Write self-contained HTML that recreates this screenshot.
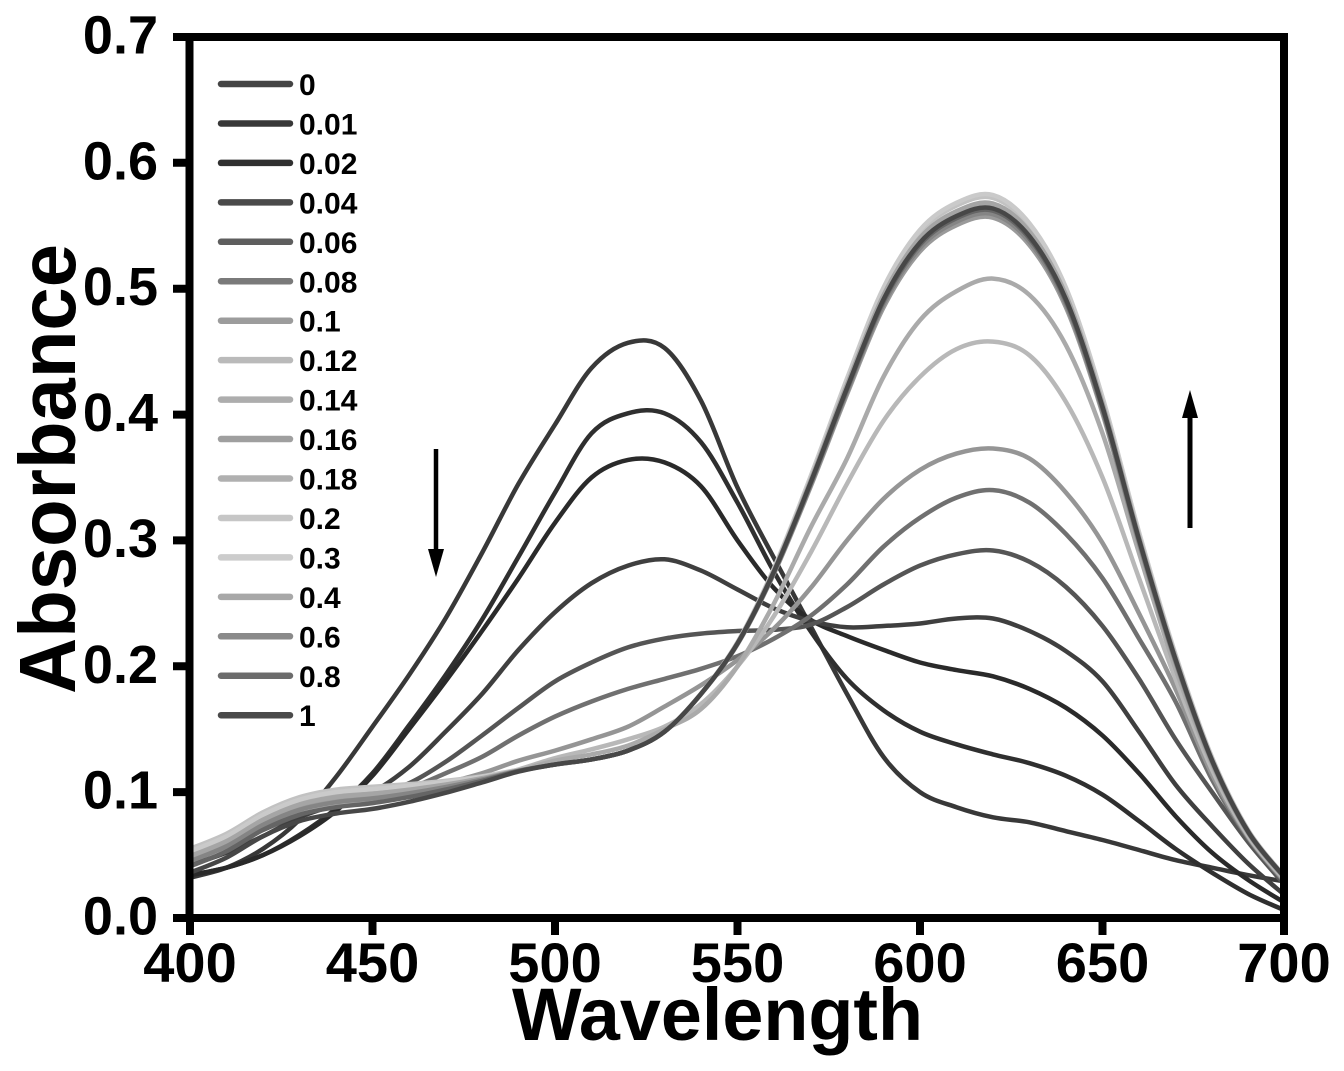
<!DOCTYPE html>
<html>
<head>
<meta charset="utf-8">
<style>
html,body{margin:0;padding:0;background:#fff;}
svg{display:block;}
</style>
</head>
<body>
<svg id="s" width="1344" height="1071" viewBox="0 0 1344 1071" xmlns="http://www.w3.org/2000/svg" font-family="'Liberation Sans', Arial, sans-serif" font-weight="bold">
<rect width="1344" height="1071" fill="#fff"/>
<g id="curves" fill="none" stroke-width="4.5" stroke-linejoin="round" stroke-linecap="round"></g>

<!-- legend -->
<g stroke-width="6.5" stroke-linecap="round">
<line x1="221" x2="290" y1="84" y2="84" stroke="#444"/>
<line x1="221" x2="290" y1="123.45" y2="123.45" stroke="#383838"/>
<line x1="221" x2="290" y1="162.9" y2="162.9" stroke="#303030"/>
<line x1="221" x2="290" y1="202.35" y2="202.35" stroke="#4a4a4a"/>
<line x1="221" x2="290" y1="241.8" y2="241.8" stroke="#5e5e5e"/>
<line x1="221" x2="290" y1="281.25" y2="281.25" stroke="#7a7a7a"/>
<line x1="221" x2="290" y1="320.7" y2="320.7" stroke="#9c9c9c"/>
<line x1="221" x2="290" y1="360.15" y2="360.15" stroke="#bababa"/>
<line x1="221" x2="290" y1="399.6" y2="399.6" stroke="#adadad"/>
<line x1="221" x2="290" y1="439.05" y2="439.05" stroke="#9f9f9f"/>
<line x1="221" x2="290" y1="478.5" y2="478.5" stroke="#b0b0b0"/>
<line x1="221" x2="290" y1="517.95" y2="517.95" stroke="#c6c6c6"/>
<line x1="221" x2="290" y1="557.4" y2="557.4" stroke="#cccccc"/>
<line x1="221" x2="290" y1="596.85" y2="596.85" stroke="#a8a8a8"/>
<line x1="221" x2="290" y1="636.3" y2="636.3" stroke="#8a8a8a"/>
<line x1="221" x2="290" y1="675.75" y2="675.75" stroke="#6c6c6c"/>
<line x1="221" x2="290" y1="715.2" y2="715.2" stroke="#4a4a4a"/>
</g>
<g font-size="30" fill="#000">
<text x="299" y="95">0</text>
<text x="299" y="134.45">0.01</text>
<text x="299" y="173.9">0.02</text>
<text x="299" y="213.35">0.04</text>
<text x="299" y="252.8">0.06</text>
<text x="299" y="292.25">0.08</text>
<text x="299" y="331.7">0.1</text>
<text x="299" y="371.15">0.12</text>
<text x="299" y="410.6">0.14</text>
<text x="299" y="450.05">0.16</text>
<text x="299" y="489.5">0.18</text>
<text x="299" y="528.95">0.2</text>
<text x="299" y="568.4">0.3</text>
<text x="299" y="607.85">0.4</text>
<text x="299" y="647.3">0.6</text>
<text x="299" y="686.75">0.8</text>
<text x="299" y="726.2">1</text>
</g>

<!-- arrows -->
<line x1="436" y1="449" x2="436" y2="556" stroke="#000" stroke-width="4.5"/>
<polygon points="428,549 444,549 436,577" fill="#000"/>
<line x1="1190" y1="528" x2="1190" y2="410" stroke="#000" stroke-width="5"/>
<polygon points="1182,418 1198,418 1190,390" fill="#000"/>

<!-- frame -->
<rect x="189.5" y="37" width="1094.5" height="881" fill="none" stroke="#000" stroke-width="8"/>
<g stroke="#000" stroke-width="8">
<line x1="173" x2="190" y1="918" y2="918"/>
<line x1="173" x2="190" y1="792.1" y2="792.1"/>
<line x1="173" x2="190" y1="666.3" y2="666.3"/>
<line x1="173" x2="190" y1="540.4" y2="540.4"/>
<line x1="173" x2="190" y1="414.6" y2="414.6"/>
<line x1="173" x2="190" y1="288.7" y2="288.7"/>
<line x1="173" x2="190" y1="162.8" y2="162.8"/>
<line x1="173" x2="190" y1="37" y2="37"/>
<line x1="190" x2="190" y1="918" y2="935"/>
<line x1="372.5" x2="372.5" y1="918" y2="935"/>
<line x1="555" x2="555" y1="918" y2="935"/>
<line x1="737.5" x2="737.5" y1="918" y2="935"/>
<line x1="920" x2="920" y1="918" y2="935"/>
<line x1="1102.5" x2="1102.5" y1="918" y2="935"/>
<line x1="1284" x2="1284" y1="918" y2="935"/>
</g>
<g font-size="54" text-anchor="end" fill="#000">
<text x="158" y="934.5">0.0</text>
<text x="158" y="808.6">0.1</text>
<text x="158" y="682.8">0.2</text>
<text x="158" y="556.9">0.3</text>
<text x="158" y="431.1">0.4</text>
<text x="158" y="305.2">0.5</text>
<text x="158" y="179.3">0.6</text>
<text x="158" y="53.5">0.7</text>
</g>
<g font-size="56" text-anchor="middle" fill="#000">
<text x="190" y="982">400</text>
<text x="372.5" y="982">450</text>
<text x="555" y="982">500</text>
<text x="737.5" y="982">550</text>
<text x="920" y="982">600</text>
<text x="1102.5" y="982">650</text>
<text x="1284" y="982">700</text>
</g>
<text x="717.5" y="1040" font-size="74" text-anchor="middle" textLength="411" lengthAdjust="spacingAndGlyphs">Wavelength</text>
<text transform="translate(75,469) rotate(-90)" x="0" y="0" font-size="80" text-anchor="middle" textLength="450" lengthAdjust="spacingAndGlyphs">Absorbance</text>
</svg>
<script>
(function(){
var X=function(l){return 190+(l-400)*3.65;};
var Y=function(a){return 918-a*1258.6;};
function path(v){
  var p=v.map(function(a,i){return [X(400+10*i),Y(a)];});
  var d='M'+p[0][0].toFixed(1)+','+p[0][1].toFixed(1);
  for(var i=0;i<p.length-1;i++){
    var p0=p[i-1]||p[i],p1=p[i],p2=p[i+1],p3=p[i+2]||p[i+1];
    var c1x=p1[0]+(p2[0]-p0[0])/6,c1y=p1[1]+(p2[1]-p0[1])/6;
    var c2x=p2[0]-(p3[0]-p1[0])/6,c2y=p2[1]-(p3[1]-p1[1])/6;
    d+='C'+c1x.toFixed(1)+','+c1y.toFixed(1)+' '+c2x.toFixed(1)+','+c2y.toFixed(1)+' '+p2[0].toFixed(1)+','+p2[1].toFixed(1);
  }
  return d;
}
var curves=[
 ['#383838',[.032,.040,.055,.078,.112,.152,.193,.238,.290,.345,.392,.437,.457,.453,.411,.342,.286,.232,.178,.128,.100,.088,.080,.076,.069,.062,.054,.046,.040,.034,.029]],
 ['#2f2f2f',[.034,.040,.050,.066,.087,.115,.153,.193,.237,.287,.338,.385,.401,.401,.378,.330,.275,.228,.190,.165,.148,.138,.130,.123,.113,.098,.077,.055,.036,.019,.006]],
 ['#2a2a2a',[.034,.040,.050,.065,.085,.113,.150,.188,.228,.270,.314,.350,.364,.362,.343,.300,.262,.237,.224,.213,.203,.197,.192,.182,.167,.145,.115,.081,.052,.030,.012]],
 ['#3f3f3f',[.042,.052,.065,.080,.090,.100,.120,.148,.178,.213,.243,.266,.280,.285,.276,.261,.246,.236,.231,.232,.234,.238,.238,.228,.212,.188,.148,.106,.073,.043,.018]],
 ['#555555',[.045,.057,.070,.082,.090,.097,.107,.124,.145,.167,.188,.203,.215,.222,.226,.228,.229,.233,.247,.265,.280,.289,.292,.283,.263,.232,.190,.142,.100,.060,.026]],
 ['#707070',[.048,.060,.072,.083,.090,.095,.103,.115,.128,.145,.160,.172,.182,.190,.198,.208,.222,.240,.265,.295,.318,.334,.340,.330,.305,.270,.222,.172,.110,.063,.028]],
 ['#959595',[.050,.062,.075,.085,.090,.094,.100,.107,.115,.125,.133,.142,.152,.168,.185,.205,.230,.262,.300,.333,.356,.369,.373,.365,.338,.298,.242,.182,.114,.064,.029]],
 ['#b8b8b8',[.053,.066,.078,.087,.091,.095,.099,.104,.110,.118,.127,.134,.142,.152,.170,.200,.240,.290,.345,.395,.430,.452,.458,.447,.410,.350,.270,.190,.118,.065,.030]],
 ['#aaaaaa',[.052,.064,.077,.086,.091,.095,.099,.104,.110,.117,.125,.130,.137,.150,.166,.200,.250,.310,.365,.430,.475,.498,.508,.495,.455,.385,.290,.198,.122,.067,.031]]
];
var B=[.045,.057,.074,.086,.092,.095,.099,.104,.110,.117,.122,.126,.133,.148,.178,.218,.275,.345,.420,.490,.535,.556,.562,.540,.490,.405,.300,.205,.125,.068,.032];
function sm(a,b,x){var t=Math.max(0,Math.min(1,(x-a)/(b-a)));return t*t*(3-2*t);}
var mem=[[0.99,0.003,'#9a9a9a'],[1.005,0.006,'#ababab'],[1.018,0.010,'#c2c2c2'],[1.022,0.008,'#cacaca'],[1.01,0.004,'#a5a5a5'],[0.995,0,'#858585'],[1.0,-0.004,'#656565'],[1.003,-0.009,'#474747']];
mem.forEach(function(m){
  var v=B.map(function(b,i){var l=400+10*i;return b*(1+(m[0]-1)*sm(530,590,l))+m[1]*(1-sm(440,500,l));});
  curves.push([m[2],v]);
});
var g=document.getElementById('curves');
var ns='http://www.w3.org/2000/svg';
curves.forEach(function(c){
  var p=document.createElementNS(ns,'path');
  p.setAttribute('d',path(c[1]));
  p.setAttribute('stroke',c[0]);
  g.appendChild(p);
});
})();
</script>
</body>
</html>
